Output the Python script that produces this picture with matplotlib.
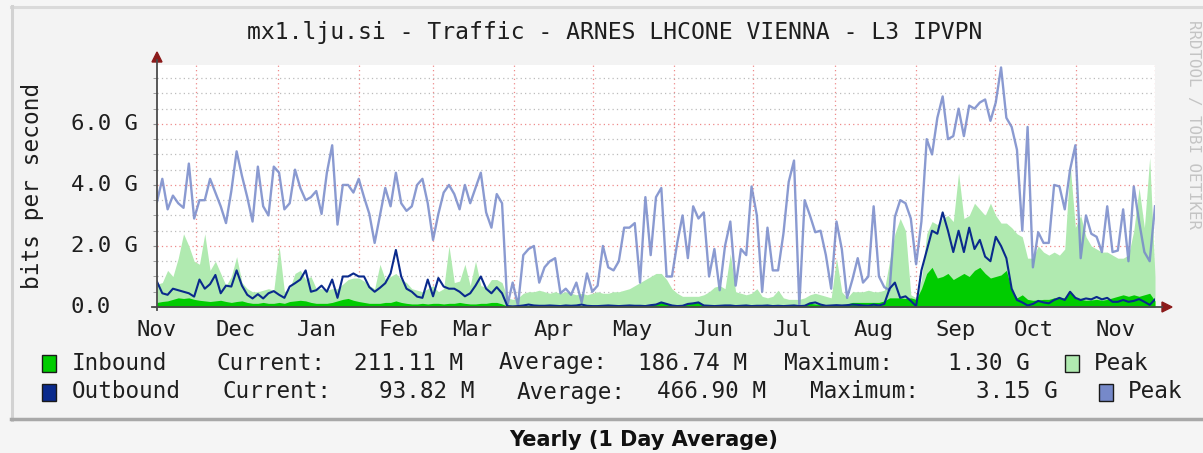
import numpy as np
import pandas as pd
import matplotlib
matplotlib.use('Agg')
import matplotlib.pyplot as plt
import matplotlib.dates as mdates
import matplotlib.transforms as mtransforms
from matplotlib.lines import Line2D
from matplotlib.patches import Rectangle, Polygon
from matplotlib.ticker import NullFormatter

# traffic in G bit/s, one sample every ~2 days, 16 Nov -> 1 Dec
inbound_peak = [
    0.75, 0.8, 1.2, 1.0, 1.6, 2.4, 2.0, 1.5, 1.4, 2.4, 1.2, 1.5, 1.1, 0.7, 1.0, 1.65,
    0.8, 0.6, 0.5, 0.5, 0.55, 0.6, 0.55, 2.0, 0.5, 0.6, 1.1, 1.2, 0.9, 1.0, 0.6, 0.6,
    0.55, 0.6, 0.6, 0.75, 0.9, 0.95, 0.95, 0.85, 0.7, 0.6, 1.4, 0.9, 1.0, 1.1, 0.9,
    0.8, 0.6, 0.55, 0.5, 0.6, 0.7, 0.5, 0.6, 2.0, 0.8, 0.85, 1.4, 0.7, 1.5, 0.7, 0.65,
    0.9, 0.9, 0.8, 0.3, 0.25, 0.3, 0.45, 0.5, 0.5, 0.55, 0.5, 0.45, 0.5, 0.45, 0.5, 0.45,
    0.4, 0.45, 0.4, 0.45, 0.5, 0.45, 0.45, 0.5, 0.5, 0.55, 0.6, 0.7, 0.8, 0.9, 1.0, 1.1,
    1.1, 0.9, 0.6, 0.45, 0.35, 0.35, 0.35, 0.35, 0.4, 0.5, 0.65, 0.7, 0.6, 1.75, 0.5,
    0.45, 0.4, 0.45, 0.6, 0.35, 0.3, 0.35, 0.55, 0.3, 0.25, 0.25, 0.25, 0.3, 0.4, 0.45, 0.4,
    0.35, 0.3, 1.6, 0.5, 0.3, 0.5, 0.5, 0.5, 0.55, 0.5, 0.5, 0.55, 1.5, 2.4, 2.9,
    2.5, 0.4, 0.3, 0.9, 2.4, 2.8, 2.7, 2.9, 3.0, 2.8, 4.4, 2.9, 3.0, 3.4, 3.2, 3.0,
    3.4, 3.0, 2.75, 2.75, 2.6, 2.4, 2.3, 1.6, 1.6, 2.0, 1.8, 1.7, 1.8, 1.7, 1.9, 4.7,
    2.6, 3.0, 2.3, 2.0, 1.9, 1.8, 1.8, 1.7, 1.6, 1.6, 1.7, 2.5, 3.9, 2.6, 4.9, 1.0,
]
inbound_avg = [
    0.15, 0.18, 0.2, 0.25, 0.3, 0.28, 0.3, 0.25, 0.22, 0.2, 0.18, 0.2, 0.22, 0.18, 0.15, 0.18,
    0.2, 0.15, 0.12, 0.12, 0.15, 0.12, 0.12, 0.15, 0.12, 0.18, 0.2, 0.22, 0.2, 0.15, 0.12, 0.12,
    0.12, 0.15, 0.2, 0.25, 0.28, 0.22, 0.18, 0.15, 0.12, 0.12, 0.12, 0.15, 0.15, 0.2, 0.15,
    0.12, 0.1, 0.1, 0.12, 0.1, 0.12, 0.12, 0.1, 0.12, 0.12, 0.15, 0.12, 0.1, 0.1, 0.12, 0.12,
    0.15, 0.15, 0.1, 0.03, 0.02, 0.02, 0.03, 0.05, 0.05, 0.04, 0.03, 0.03, 0.04, 0.05, 0.08, 0.04,
    0.03, 0.03, 0.03, 0.04, 0.03, 0.03, 0.03, 0.04, 0.05, 0.03, 0.04, 0.05, 0.06, 0.08, 0.08, 0.1,
    0.15, 0.12, 0.08, 0.05, 0.05, 0.1, 0.15, 0.15, 0.08, 0.05, 0.05, 0.05, 0.06, 0.05, 0.05,
    0.06, 0.05, 0.04, 0.05, 0.05, 0.05, 0.04, 0.05, 0.05, 0.04, 0.05, 0.05, 0.08, 0.12, 0.1, 0.08,
    0.05, 0.05, 0.04, 0.05, 0.1, 0.15, 0.15, 0.15, 0.15, 0.15, 0.15, 0.2, 0.3, 0.3, 0.3,
    0.28, 0.3, 0.25, 0.6, 1.1, 1.3, 0.95, 1.0, 1.1, 0.9, 1.0, 1.1, 1.0, 1.2, 1.3, 1.1,
    0.95, 1.0, 1.05, 1.2, 0.55, 0.3, 0.4, 0.25, 0.22, 0.23, 0.25, 0.25, 0.3, 0.28, 0.3, 0.5,
    0.28, 0.25, 0.22, 0.23, 0.25, 0.22, 0.25, 0.3, 0.35, 0.4, 0.35, 0.4, 0.35, 0.4, 0.45, 0.2,
]
outbound_peak = [
    3.45, 4.2, 3.2, 3.65, 3.4, 3.25, 4.7, 2.9, 3.5, 3.5, 4.2, 3.75, 3.3, 2.75, 3.8, 5.1,
    4.3, 3.6, 2.8, 4.6, 3.3, 3.0, 4.6, 4.4, 3.2, 3.4, 4.5, 3.9, 3.5, 3.6, 3.8, 3.05,
    4.4, 5.3, 2.7, 4.0, 4.0, 3.75, 4.2, 3.6, 3.05, 2.1, 3.0, 3.9, 3.3, 4.4, 3.4,
    3.15, 3.3, 4.0, 4.2, 3.4, 2.2, 3.05, 3.75, 4.0, 3.7, 3.2, 4.0, 3.4, 3.9, 4.4, 3.1,
    2.6, 3.7, 3.4, 0.05, 0.8, 0.05, 1.7, 1.9, 2.0, 0.8, 1.3, 1.5, 1.6, 0.45, 0.6, 0.4,
    0.8, 0.15, 1.1, 0.5, 0.7, 2.0, 1.3, 1.2, 1.5, 2.6, 2.6, 2.75, 0.8, 3.6, 1.7, 3.6,
    3.9, 1.0, 1.0, 2.1, 3.0, 1.6, 3.3, 2.9, 3.1, 1.0, 1.9, 0.55, 2.0, 2.8, 0.7,
    1.9, 1.7, 3.95, 3.0, 0.5, 2.6, 1.2, 1.2, 2.4, 4.1, 4.8, 0.05, 3.5, 3.0, 2.45, 2.5,
    1.7, 0.6, 2.8, 1.9, 0.3, 0.9, 1.6, 0.8, 1.0, 3.3, 1.0, 0.65, 0.55, 2.95, 3.5,
    3.4, 2.9, 1.4, 2.8, 5.5, 5.0, 6.2, 6.9, 5.5, 5.6, 6.5, 5.6, 6.6, 6.5, 6.7, 6.8,
    6.1, 6.7, 7.85, 6.2, 5.9, 5.15, 2.5, 5.9, 1.3, 2.45, 2.1, 2.1, 4.0, 3.95, 3.2, 4.5,
    5.3, 1.6, 3.0, 2.4, 2.3, 1.8, 3.3, 1.8, 1.85, 3.2, 1.5, 3.95, 2.8, 1.8, 1.5, 3.3,
]
outbound_avg = [
    0.83, 0.45, 0.4, 0.6, 0.55, 0.5, 0.45, 0.34, 0.9, 0.6, 0.75, 1.05, 0.45, 0.7, 0.67, 1.2,
    0.7, 0.4, 0.28, 0.42, 0.28, 0.45, 0.52, 0.4, 0.3, 0.67, 0.78, 0.9, 1.2, 0.5, 0.55, 0.7,
    0.5, 0.9, 0.3, 1.0, 1.0, 1.1, 1.0, 1.0, 0.65, 0.5, 0.63, 0.78, 1.1, 1.87, 1.0,
    0.6, 0.5, 0.34, 0.3, 0.9, 0.35, 0.95, 0.67, 0.6, 0.6, 0.5, 0.35, 0.45, 0.7, 1.0, 0.6,
    0.45, 0.65, 0.45, 0.03, 0.02, 0.03, 0.05, 0.08, 0.05, 0.04, 0.04, 0.05, 0.04, 0.03, 0.05, 0.04,
    0.05, 0.08, 0.04, 0.03, 0.03, 0.04, 0.05, 0.04, 0.03, 0.04, 0.05, 0.04, 0.04, 0.03, 0.06, 0.08,
    0.15, 0.1, 0.05, 0.03, 0.04, 0.1, 0.12, 0.15, 0.05, 0.04, 0.03, 0.04, 0.05, 0.05, 0.03,
    0.04, 0.05, 0.03, 0.04, 0.04, 0.05, 0.03, 0.04, 0.03, 0.04, 0.05, 0.03, 0.04, 0.12, 0.15, 0.08,
    0.04, 0.05, 0.06, 0.05, 0.06, 0.08, 0.07, 0.05, 0.04, 0.08, 0.05, 0.1, 0.6, 0.8, 0.3,
    0.35, 0.2, 0.03, 1.2, 1.85, 2.5, 2.4, 3.1, 2.5, 1.8, 2.5, 1.8, 2.6, 1.9, 2.2, 1.65,
    1.5, 2.3, 2.0, 1.6, 0.6, 0.23, 0.15, 0.05, 0.1, 0.2, 0.15, 0.12, 0.23, 0.3, 0.23, 0.5,
    0.3, 0.23, 0.28, 0.25, 0.33, 0.25, 0.3, 0.17, 0.17, 0.23, 0.17, 0.2, 0.26, 0.17, 0.07, 0.25,
]

ytick_vals = [0, 2, 4, 6]
ytick_labels = ['0.0', '2.0 G', '4.0 G', '6.0 G']

legend_in = ['Inbound', 'Current:', '211.11 M', 'Average:', '186.74 M', 'Maximum:', '1.30 G', 'Peak']
legend_out = ['Outbound', 'Current:', '93.82 M', 'Average:', '466.90 M', 'Maximum:', '3.15 G', 'Peak']

title = 'mx1.lju.si - Traffic - ARNES LHCONE VIENNA - L3 IPVPN'

C_IN = '#00cc00'
C_IN_PEAK = '#b0eab0'
C_OUT = '#0a2a8c'
C_OUT_PEAK = '#7689c9'
MONO = 'DejaVu Sans Mono'
TXT = '#1e1e1e'

W, H = 1203, 453
fig = plt.figure(figsize=(W / 100, H / 100), dpi=100, facecolor='#f5f5f5')


def fx(x):
    return x / W


def fy(y):
    return 1 - y / H


# rrd canvas with 3d border
fig.add_artist(Rectangle((fx(11), fy(420)), (1203 - 11) / W, (420 - 6) / H,
                         facecolor='#f3f3f3', edgecolor='none', zorder=0))
fig.add_artist(Line2D([fx(11), fx(1203)], [fy(7), fy(7)], color='#dadada', lw=2.2))
fig.add_artist(Line2D([fx(12), fx(12)], [fy(6), fy(420)], color='#d2d2d2', lw=2.2))
fig.add_artist(Line2D([fx(11), fx(1203)], [fy(419), fy(419)], color='#a8a8a8', lw=2.5))

ax = fig.add_axes([fx(157), fy(307), (1155 - 157) / W, (307 - 65) / H])
ax.set_facecolor('white')

start, end = pd.Timestamp('2022-11-16'), pd.Timestamp('2023-12-01')
days = pd.date_range(start, end, periods=len(outbound_avg))

ax.fill_between(days, 0, inbound_peak, color=C_IN_PEAK, lw=0, zorder=2)
ax.fill_between(days, 0, inbound_avg, color=C_IN, lw=0, zorder=3)
ax.plot(days, outbound_peak, color=C_OUT_PEAK, lw=1.7, alpha=0.85, zorder=4)
ax.plot(days, outbound_avg, color=C_OUT, lw=1.5, zorder=5)

ax.set_xlim(start, end)
ax.set_ylim(0, 7.93)

ax.set_yticks(ytick_vals)
ax.set_yticks(np.arange(0.5, 7.9, 0.5), minor=True)
ax.yaxis.set_major_formatter(NullFormatter())
ax.xaxis.set_major_locator(mdates.MonthLocator())
ax.xaxis.set_major_formatter(NullFormatter())
ax.xaxis.set_minor_locator(mdates.MonthLocator(bymonthday=16))
ax.xaxis.set_minor_formatter(mdates.DateFormatter('%b'))

ax.set_axisbelow(True)
ax.grid(which='minor', axis='y', color='#bcbcbc', lw=0.9, ls=(0, (1, 2.5)), zorder=1)
ax.grid(which='major', axis='both', color='#ef8b8b', lw=0.9, ls=(0, (1, 2.5)), zorder=1)
ax.tick_params(axis='y', which='both', length=3, color='#909090', direction='out')
ax.tick_params(axis='x', which='both', length=0)
ax.tick_params(axis='x', which='minor', pad=9, labelsize=16, labelcolor=TXT)
for lab in ax.get_xticklabels(minor=True):
    lab.set_family(MONO)
for s in ax.spines.values():
    s.set_visible(False)

# y labels left-aligned like rrdtool
tr = mtransforms.blended_transform_factory(fig.transFigure, ax.transData)
for v, lab in zip(ytick_vals, ytick_labels):
    ax.text(fx(71), v, lab, transform=tr, ha='left', va='center', family=MONO,
            size=16, color=TXT, clip_on=False)

# axes with arrows
fig.add_artist(Line2D([fx(157), fx(157)], [fy(310), fy(60)], color='#4a4a4a', lw=1.3))
fig.add_artist(Line2D([fx(152), fx(1162)], [fy(307), fy(307)], color='#4a4a4a', lw=1.3))
fig.add_artist(Polygon([(fx(152), fy(62)), (fx(162), fy(62)), (fx(157), fy(52))],
                       closed=True, color='#8b1a1a'))
fig.add_artist(Polygon([(fx(1162), fy(302)), (fx(1162), fy(312)), (fx(1172), fy(307))],
                       closed=True, color='#8b1a1a'))

fig.text(fx(615), fy(32), title, ha='center', va='center', family=MONO, size=16.6, color=TXT)
fig.text(fx(33), fy(186), 'bits per second', ha='center', va='center', rotation=90,
         family=MONO, size=16.4, color=TXT)
fig.text(fx(1194), fy(20), 'RRDTOOL / TOBI OETIKER', ha='center', va='top', rotation=270,
         family=MONO, size=11.4, color='#c4c4c4')

# legend
rows = [
    (363, legend_in, [72, 216, 354, 499, 638, 784, 948, 1094], C_IN, 1065, C_IN_PEAK),
    (392, legend_out, [72, 223, 379, 517, 657, 810, 976, 1128], C_OUT, 1099, C_OUT_PEAK),
]
for yc, items, xs, c, px, pc in rows:
    for x0, col in ((42, c), (px, pc)):
        fig.add_artist(Rectangle((fx(x0), fy(yc + 8.5)), 14 / W, 17 / H, facecolor=col,
                                 edgecolor='#1a1a1a', lw=1))
    for x, t in zip(xs, items):
        fig.text(fx(x), fy(yc), t, ha='left', va='center', family=MONO, size=16.3, color=TXT)

fig.text(fx(644), fy(440), 'Yearly (1 Day Average)', ha='center', va='center',
         family='DejaVu Sans', weight='bold', size=15, color='#111111')

fig.savefig('out.png', dpi=100, facecolor=fig.get_facecolor())
